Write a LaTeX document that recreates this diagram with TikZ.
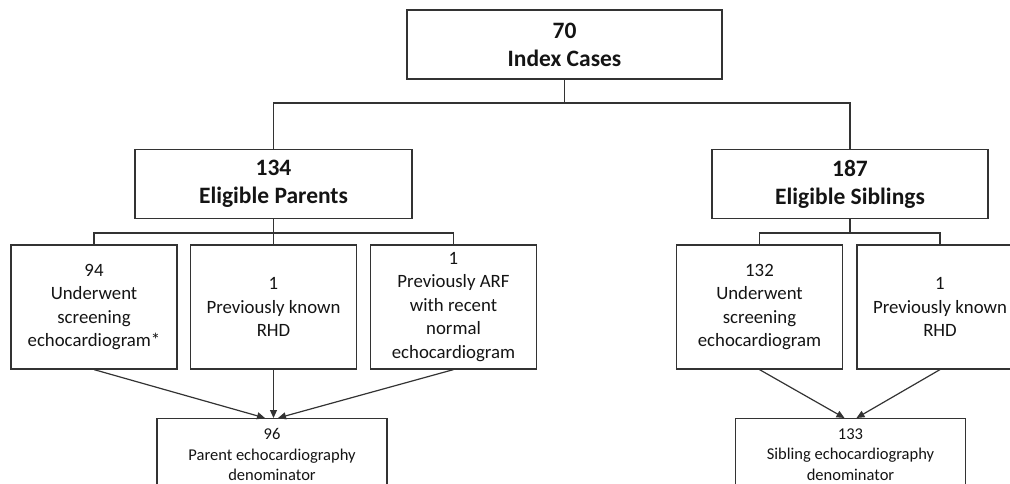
\documentclass[tikz,border=0pt]{standalone}
\usepackage{fontspec}
\setmainfont{Carlito}
\usetikzlibrary{arrows.meta,positioning}
\definecolor{linegray}{HTML}{333333}
\definecolor{txtgray}{HTML}{141414}
\tikzset{%
	box/.style      = {draw=linegray, line width=1.2pt, rectangle, align=center, text=txtgray, inner sep=0pt},
	headbox/.style  = {box, minimum height=69pt, font=\fontsize{23.5}{28}\selectfont\bfseries}, % Group totals
	countbox/.style = {box, minimum width=166pt, minimum height=124pt, font=\fontsize{18.8}{23.5}\selectfont}, % Counts
	totalbox/.style = {box, minimum width=230pt, anchor=north, inner ysep=10pt, font=\fontsize{16.5}{20.5}\selectfont}, % Denominator
	waypoint/.style = {coordinate},
	link/.style     = {draw=linegray, line width=1.2pt},
	flow/.style     = {link, -{Triangle[length=8pt,width=7pt]}},
}

\begin{document}
\begin{tikzpicture}[x=1pt, y=-1pt]
		\useasboundingbox (0,0) rectangle (1010,484);
		% top level
		\node[headbox, minimum width=315pt] (idx) at (564.5,44.5) {70\\Index Cases};
		\node[headbox, minimum width=277pt] (par) at (273.5,184) {134\\Eligible Parents};
		\node[headbox, minimum width=276pt] (sib) at (850,184) {187\\Eligible Siblings};
		\node[waypoint] (top) at (idx.south |- 0,103) {};
		\draw[link] (idx.south) -- (top);
		\draw[link] (par.north) |- (top) -| (sib.north);
		% parents
		\node[countbox] (pc1) at (94,307) {94\\Underwent\\screening\\echocardiogram*};
		\node[countbox] (pc2) at (273.5,307) {1\\Previously known\\RHD};
		\node[countbox] (pc3) at (453.5,307) {1\\Previously ARF\\with recent\\normal\\echocardiogram};
		\node[waypoint] (pbar) at (par.south |- 0,233) {};
		\draw[link] (par.south) -- (pc2.north);
		\draw[link] (pc1.north) |- (pbar) -| (pc3.north);
		\node[totalbox] (pden) at (272,418) {96\\Parent echocardiography\\denominator};
		\draw[flow] (pc1.south) -- ([xshift=-7pt]pden.north);
		\draw[flow] (pc2.south) -- (pc2.south |- pden.north);
		\draw[flow] (pc3.south) -- ([xshift=6pt]pden.north);
		% siblings
		\node[countbox] (sc1) at (759.5,307) {132\\Underwent\\screening\\echocardiogram};
		\node[countbox] (sc2) at (940,307) {1\\Previously known\\RHD};
		\node[waypoint] (sbar) at (sib.south |- 0,233) {};
		\draw[link] (sib.south) -- (sbar);
		\draw[link] (sc1.north) |- (sbar) -| (sc2.north);
		\node[totalbox] (sden) at (850.5,418) {133\\Sibling echocardiography\\denominator};
		\draw[flow] (sc1.south) -- ([xshift=-6pt]sden.north);
		\draw[flow] (sc2.south) -- ([xshift=6pt]sden.north);
\end{tikzpicture}
\end{document}
